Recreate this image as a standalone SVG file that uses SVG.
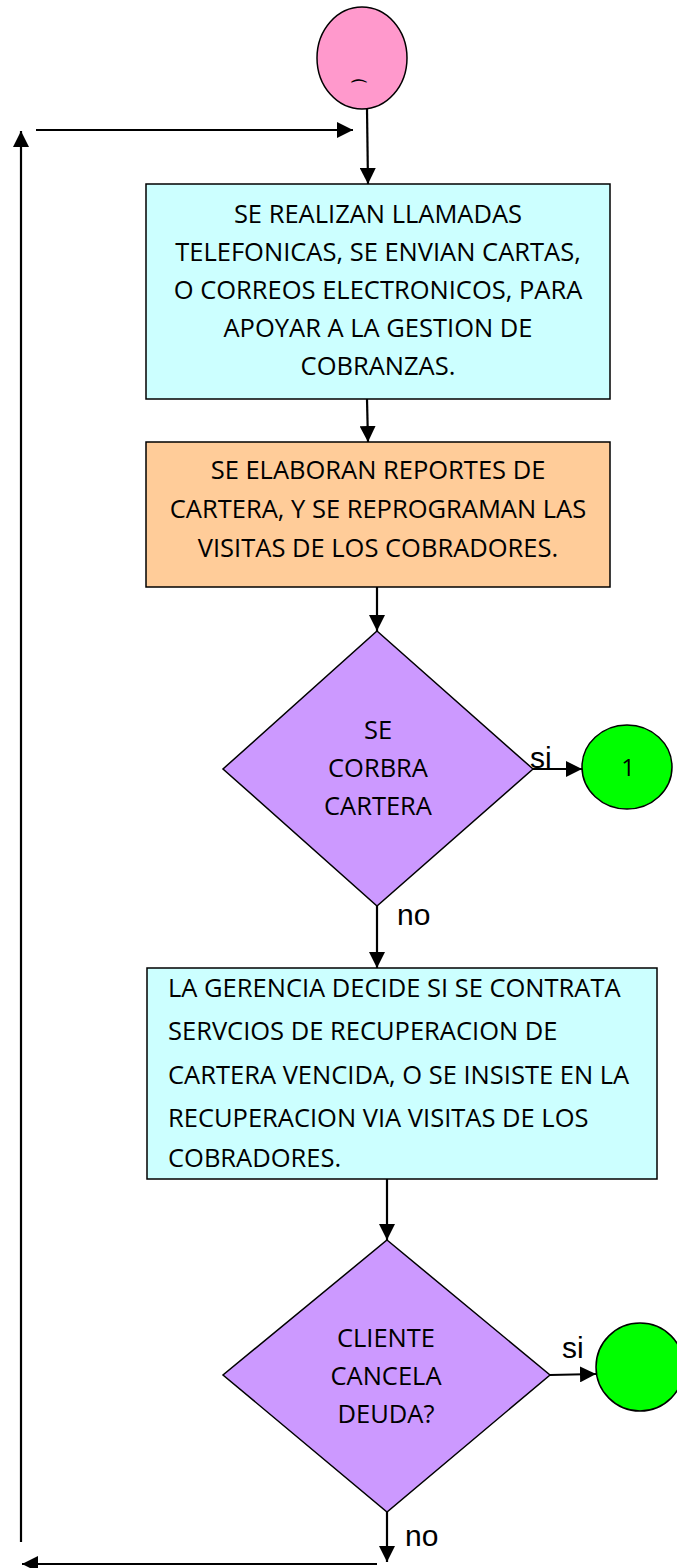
<svg xmlns="http://www.w3.org/2000/svg" width="677" height="1568" viewBox="0 0 677 1568">
<defs>
<marker id="ah" viewBox="0 0 10 10" refX="10" refY="5" markerWidth="16" markerHeight="16" markerUnits="userSpaceOnUse" orient="auto" preserveAspectRatio="none">
<path d="M0,0 L10,5 L0,10 z" fill="#000"/>
</marker>
<style>
.shape{stroke:#000;stroke-width:1.5}
.conn{stroke:#000;stroke-width:2.2;fill:none;marker-end:url(#ah)}
.t{font-family:"Open Sans","Liberation Sans",sans-serif;font-size:25.5px;fill:#000}
.c{text-anchor:middle}
.lbl{font-family:"Liberation Sans",Arial,sans-serif;font-size:30px;fill:#000}
.num{font-family:"Open Sans","Liberation Sans",sans-serif;font-size:24px;fill:#000;text-anchor:middle}
</style>
</defs>
<rect width="677" height="1568" fill="#fff"/>
<g id="connectors">
<line class="conn" x1="367" y1="109" x2="368" y2="184"/>
<line class="conn" x1="36" y1="130" x2="353" y2="130"/>
<line class="conn" x1="21" y1="1542" x2="21" y2="131"/>
<line class="conn" x1="367" y1="399" x2="368" y2="442"/>
<line class="conn" x1="377" y1="587" x2="377" y2="631"/>
<line class="conn" x1="533" y1="769" x2="582" y2="769"/>
<line class="conn" x1="377" y1="906" x2="377" y2="968"/>
<line class="conn" x1="387" y1="1179" x2="387" y2="1240"/>
<line class="conn" x1="550" y1="1375" x2="596" y2="1374"/>
<line class="conn" x1="387" y1="1512" x2="387" y2="1562"/>
<line class="conn" x1="377" y1="1564" x2="22" y2="1564"/>
<text class="lbl" x="530" y="768">si</text>
<text class="lbl" x="397" y="925">no</text>
<text class="lbl" x="562" y="1358">si</text>
<text class="lbl" x="405" y="1546">no</text>
</g>
<g id="start">
<ellipse class="shape" cx="362" cy="58" rx="45" ry="51" fill="#FF99CC"/>
<text x="359" y="94" font-family="DejaVu Sans,sans-serif" font-size="18" font-weight="bold" text-anchor="middle">⌒</text>
</g>
<g id="box1">
<rect class="shape" x="146" y="184" width="464" height="215" fill="#CCFFFF"/>
<text class="t c" x="378" y="223">SE REALIZAN LLAMADAS</text>
<text class="t c" x="378" y="261">TELEFONICAS, SE ENVIAN CARTAS,</text>
<text class="t c" x="378" y="299">O CORREOS ELECTRONICOS, PARA</text>
<text class="t c" x="378" y="337">APOYAR A LA GESTION DE</text>
<text class="t c" x="378" y="375">COBRANZAS.</text>
</g>
<g id="box2">
<rect class="shape" x="146" y="442" width="464" height="145" fill="#FFCC99"/>
<text class="t c" x="378" y="479">SE ELABORAN REPORTES DE</text>
<text class="t c" x="378" y="518">CARTERA, Y SE REPROGRAMAN LAS</text>
<text class="t c" x="378" y="557">VISITAS DE LOS COBRADORES.</text>
</g>
<g id="decision1">
<polygon class="shape" points="377,631 533,769 377,906 223,769" fill="#CC99FF"/>
<text class="t c" x="378" y="739">SE</text>
<text class="t c" x="378" y="777">CORBRA</text>
<text class="t c" x="378" y="815">CARTERA</text>
</g>
<g id="connector1">
<ellipse class="shape" cx="627" cy="767" rx="45" ry="42" fill="#00FF00"/>
<text class="num" x="628" y="776">1</text>
</g>
<g id="box3">
<rect class="shape" x="147" y="968" width="510" height="211" fill="#CCFFFF"/>
<text class="t" x="168" y="997">LA GERENCIA DECIDE SI SE CONTRATA</text>
<text class="t" x="168" y="1040">SERVCIOS DE RECUPERACION  DE</text>
<text class="t" x="168" y="1084">CARTERA VENCIDA, O SE INSISTE EN LA</text>
<text class="t" x="168" y="1127">RECUPERACION VIA VISITAS DE LOS</text>
<text class="t" x="168" y="1167">COBRADORES.</text>
</g>
<g id="decision2">
<polygon class="shape" points="387,1240 550,1375 387,1512 223,1375" fill="#CC99FF"/>
<text class="t c" x="386" y="1347">CLIENTE</text>
<text class="t c" x="386" y="1385">CANCELA</text>
<text class="t c" x="386" y="1423">DEUDA?</text>
</g>
<g id="end">
<ellipse class="shape" cx="640" cy="1367" rx="44" ry="44" fill="#00FF00"/>
</g>
</svg>
